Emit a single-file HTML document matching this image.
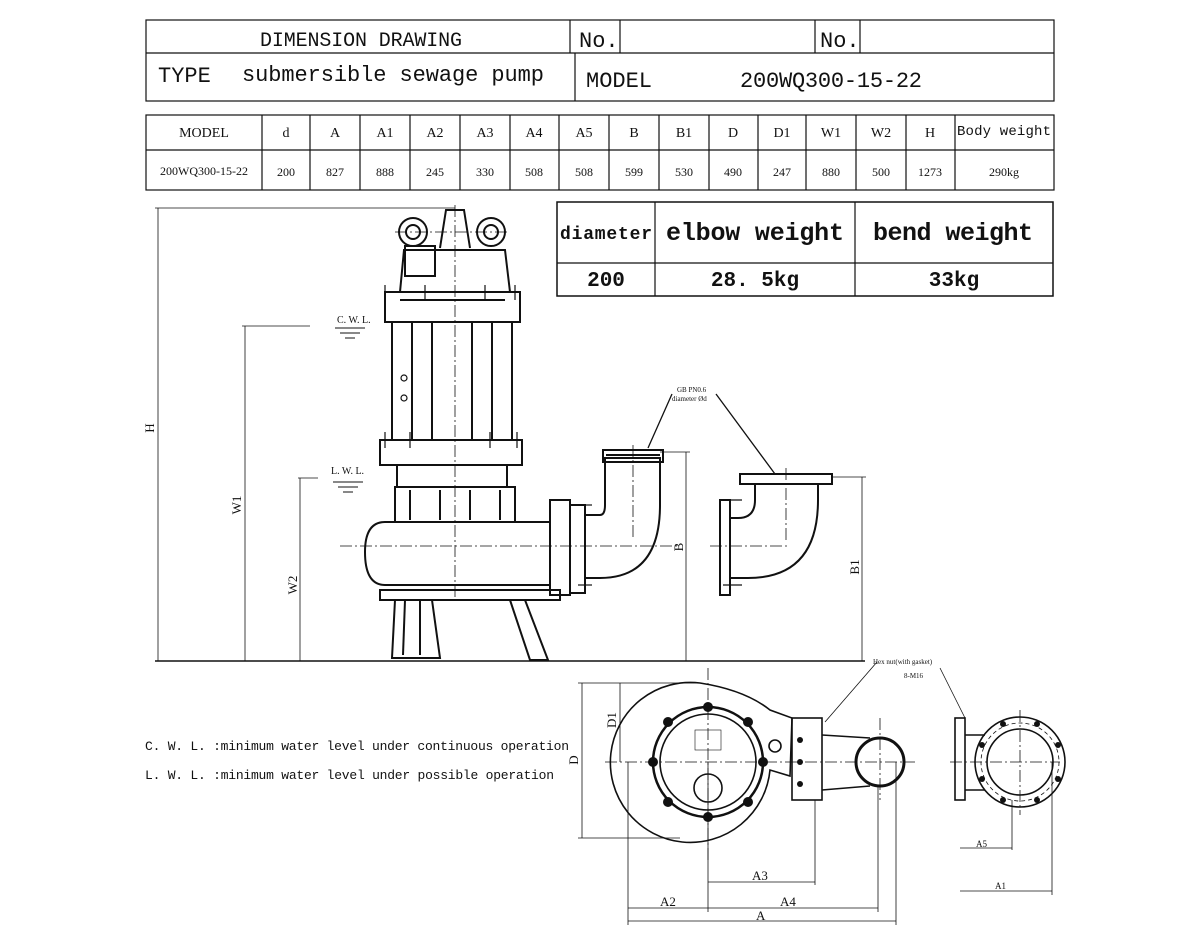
<!DOCTYPE html>
<html><head><meta charset="utf-8"><style>
body{margin:0;background:#fff;width:1200px;height:950px;overflow:hidden}
svg{display:block}
text{font-family:"Liberation Serif","Noto Serif CJK SC",serif;fill:#111}
.m{font-family:"Liberation Mono","Noto Sans CJK SC",monospace}
</style></head><body>
<svg width="1200" height="950" viewBox="0 0 1200 950" xmlns="http://www.w3.org/2000/svg" stroke="#111" fill="none" stroke-width="1.2">
<!-- header table -->
<rect x="146" y="20" width="908" height="81"/>
<line x1="146" y1="53" x2="1054" y2="53"/>
<line x1="570" y1="20" x2="570" y2="53"/><line x1="620" y1="20" x2="620" y2="53"/>
<line x1="815" y1="20" x2="815" y2="53"/><line x1="860" y1="20" x2="860" y2="53"/>
<line x1="575" y1="53" x2="575" y2="101"/>
<g stroke="none" font-size="20" class="m">
<text class="m" x="260" y="46" textLength="202">DIMENSION DRAWING</text>
<text class="m" x="579" y="47" font-size="22">No.</text><text class="m" x="820" y="47" font-size="22">No.</text>
<text class="m" x="158" y="82" font-size="22">TYPE</text>
<text class="m" x="242" y="81" font-size="22" textLength="302">submersible sewage pump</text>
<text class="m" x="586" y="87" font-size="22">MODEL</text>
<text class="m" x="740" y="87" font-size="22" textLength="182">200WQ300-15-22</text>
</g>
<!-- param table -->
<rect x="146" y="115" width="908" height="75"/>
<line x1="146" y1="150" x2="1054" y2="150"/>
<g>
<line x1="262" y1="115" x2="262" y2="190"/><line x1="310" y1="115" x2="310" y2="190"/>
<line x1="360" y1="115" x2="360" y2="190"/><line x1="410" y1="115" x2="410" y2="190"/>
<line x1="460" y1="115" x2="460" y2="190"/><line x1="510" y1="115" x2="510" y2="190"/>
<line x1="559" y1="115" x2="559" y2="190"/><line x1="609" y1="115" x2="609" y2="190"/>
<line x1="659" y1="115" x2="659" y2="190"/><line x1="709" y1="115" x2="709" y2="190"/>
<line x1="758" y1="115" x2="758" y2="190"/><line x1="806" y1="115" x2="806" y2="190"/>
<line x1="856" y1="115" x2="856" y2="190"/><line x1="906" y1="115" x2="906" y2="190"/>
<line x1="955" y1="115" x2="955" y2="190"/>
</g>
<g stroke="none" font-size="14" text-anchor="middle">
<text x="204" y="137">MODEL</text><text x="286" y="137">d</text><text x="335" y="137">A</text>
<text x="385" y="137">A1</text><text x="435" y="137">A2</text><text x="485" y="137">A3</text>
<text x="534" y="137">A4</text><text x="584" y="137">A5</text><text x="634" y="137">B</text>
<text x="684" y="137">B1</text><text x="733" y="137">D</text><text x="782" y="137">D1</text>
<text x="831" y="137">W1</text><text x="881" y="137">W2</text><text x="930" y="137">H</text>
<text class="m" x="1004" y="135" font-size="14" textLength="94">Body weight</text>
<g font-size="12">
<text x="204" y="175">200WQ300-15-22</text><text x="286" y="176">200</text><text x="335" y="176">827</text>
<text x="385" y="176">888</text><text x="435" y="176">245</text><text x="485" y="176">330</text>
<text x="534" y="176">508</text><text x="584" y="176">508</text><text x="634" y="176">599</text>
<text x="684" y="176">530</text><text x="733" y="176">490</text><text x="782" y="176">247</text>
<text x="831" y="176">880</text><text x="881" y="176">500</text><text x="930" y="176">1273</text>
<text x="1004" y="176">290kg</text></g>
</g>
<!-- elbow table -->
<rect x="557" y="202" width="496" height="94" stroke-width="1.5"/>
<line x1="557" y1="263" x2="1053" y2="263"/>
<line x1="655" y1="202" x2="655" y2="296"/><line x1="855" y1="202" x2="855" y2="296"/>
<g stroke="none" text-anchor="middle" font-weight="bold">
<text class="m" x="606" y="239" font-size="18" textLength="92">diameter</text>
<text class="m" x="755" y="240" font-size="25" textLength="178">elbow weight</text>
<text class="m" x="953" y="240" font-size="25" textLength="160">bend weight</text>
<text class="m" x="606" y="286" font-size="21">200</text>
<text class="m" x="755" y="286" font-size="21">28. 5kg</text>
<text class="m" x="954" y="286" font-size="21">33kg</text>
</g>
<!-- dimension lines side view -->
<line x1="155" y1="661" x2="865" y2="661" stroke-width="1.5"/>
<line x1="155" y1="208" x2="455" y2="208" stroke-width="0.8"/>
<line x1="158" y1="208" x2="158" y2="661" stroke-width="0.8"/>
<line x1="242" y1="326" x2="310" y2="326" stroke-width="0.8"/>
<line x1="245" y1="326" x2="245" y2="661" stroke-width="0.8"/>
<line x1="298" y1="478" x2="318" y2="478" stroke-width="0.8"/>
<line x1="300" y1="478" x2="300" y2="661" stroke-width="0.8"/>
<line x1="686" y1="452" x2="686" y2="661" stroke-width="0.8"/>
<line x1="660" y1="452" x2="690" y2="452" stroke-width="0.8"/>
<line x1="862" y1="477" x2="862" y2="661" stroke-width="0.8"/>
<line x1="832" y1="477" x2="866" y2="477" stroke-width="0.8"/>
<g stroke="none" font-size="13">
<text x="154" y="428" transform="rotate(-90 154 428)" text-anchor="middle">H</text>
<text x="241" y="505" transform="rotate(-90 241 505)" text-anchor="middle">W1</text>
<text x="297" y="585" transform="rotate(-90 297 585)" text-anchor="middle">W2</text>
<text x="683" y="547" transform="rotate(-90 683 547)" text-anchor="middle">B</text>
<text x="859" y="567" transform="rotate(-90 859 567)" text-anchor="middle">B1</text>
<text x="337" y="323" font-size="10">C. W. L.</text>
<text x="331" y="474" font-size="10">L. W. L.</text>
<text x="677" y="392" font-size="7">GB PN0.6</text>
<text x="672" y="401" font-size="7">diameter Ød</text>
</g>
<g stroke-width="1">
<line x1="335" y1="328" x2="365" y2="328"/><line x1="340" y1="333" x2="360" y2="333"/><line x1="345" y1="338" x2="355" y2="338"/>
<line x1="333" y1="482" x2="363" y2="482"/><line x1="338" y1="487" x2="358" y2="487"/><line x1="343" y1="492" x2="353" y2="492"/>
</g>
<line x1="672" y1="394" x2="648" y2="448" stroke-width="1.3"/>
<line x1="716" y1="394" x2="775" y2="474" stroke-width="1.3"/>
<!-- pump body -->
<g stroke-width="2">
<circle cx="413" cy="232" r="14"/><circle cx="413" cy="232" r="7"/>
<circle cx="491" cy="232" r="14"/><circle cx="491" cy="232" r="7"/>
<path d="M440 248 L446 210 L464 210 L470 248"/>
<rect x="405" y="246" width="30" height="30"/>
<path d="M400 292 L404 250 L505 250 L510 292"/>
<rect x="385" y="292" width="135" height="30"/>
<line x1="400" y1="300" x2="505" y2="300"/>
<rect x="392" y="322" width="120" height="118"/>
<line x1="412" y1="322" x2="412" y2="440"/><line x1="432" y1="322" x2="432" y2="440"/>
<line x1="472" y1="322" x2="472" y2="440"/><line x1="492" y1="322" x2="492" y2="440"/>
<rect x="380" y="440" width="142" height="25"/>
<rect x="397" y="465" width="110" height="22"/>
<rect x="395" y="487" width="120" height="35"/>
<line x1="410" y1="490" x2="410" y2="520"/><line x1="440" y1="490" x2="440" y2="520"/><line x1="470" y1="490" x2="470" y2="520"/><line x1="500" y1="490" x2="500" y2="520"/>
<path d="M550 522 L385 522 Q365 522 365 552 Q365 585 385 585 L550 585"/>
<rect x="550" y="500" width="20" height="95"/>
<rect x="570" y="505" width="15" height="88"/>
<path d="M585 515 L600 515 Q605 515 605 505 L605 458 L660 458 L660 505 Q660 578 600 578 L585 578"/>
<rect x="603" y="450" width="60" height="12"/>
<line x1="606" y1="455" x2="660" y2="455"/>
<path d="M380 590 L560 590 L560 600 L380 600 Z"/>
<path d="M395 600 L392 658 L440 658 L432 600"/>
<line x1="405" y1="600" x2="403" y2="655"/><line x1="420" y1="600" x2="420" y2="655"/>
<path d="M510 600 L530 660 L548 660 L525 600"/>
<!-- right elbow -->
<rect x="740" y="474" width="92" height="10"/>
<path d="M755 484 L755 500 Q755 518 738 518 L730 518 M818 484 L818 500 Q818 578 748 578 L730 578"/>
<rect x="720" y="500" width="10" height="95"/>
</g>
<g stroke-width="1.2">
<line x1="385" y1="285" x2="385" y2="300"/><line x1="425" y1="285" x2="425" y2="300"/><line x1="485" y1="285" x2="485" y2="300"/><line x1="515" y1="285" x2="515" y2="300"/>
<line x1="385" y1="432" x2="385" y2="448"/><line x1="410" y1="432" x2="410" y2="448"/><line x1="490" y1="432" x2="490" y2="448"/><line x1="517" y1="432" x2="517" y2="448"/>
<line x1="578" y1="505" x2="592" y2="505"/><line x1="578" y1="585" x2="592" y2="585"/>
<line x1="723" y1="500" x2="742" y2="500"/><line x1="723" y1="585" x2="742" y2="585"/>
<circle cx="404" cy="378" r="3"/><circle cx="404" cy="398" r="3"/>
</g>
<g stroke-width="0.8" stroke-dasharray="12 3 2 3">
<line x1="455" y1="205" x2="455" y2="600"/>
<line x1="340" y1="546" x2="680" y2="546"/>
<line x1="710" y1="546" x2="790" y2="546"/>
<line x1="633" y1="445" x2="633" y2="540"/>
<line x1="786" y1="468" x2="786" y2="540"/>
<line x1="395" y1="232" x2="510" y2="232"/>
</g>
<!-- legend -->
<g stroke="none" font-size="13">
<text class="m" x="145" y="750" textLength="424">C. W. L.  :minimum water level under continuous operation</text>
<text class="m" x="145" y="779" textLength="409">L. W. L.  :minimum water level under possible operation</text>
</g>
<!-- bottom view -->
<g stroke-width="1.6">
<path d="M700 683 A80 80 0 1 0 770 770 L790 776 L792 718 L770 710 Q745 690 700 683 Z"/>
<circle cx="708" cy="762" r="55" stroke-width="2.5"/><circle cx="708" cy="762" r="48"/>
<circle cx="708" cy="788" r="14"/>
<circle cx="775" cy="746" r="6"/>
<rect x="792" y="718" width="30" height="82"/>
<path d="M822 735 L870 738 M822 790 L870 786"/>
<circle cx="880" cy="762" r="24" stroke-width="3"/>
<rect x="955" y="718" width="10" height="82"/>
<circle cx="1020" cy="762" r="45"/><circle cx="1020" cy="762" r="33"/>
<path d="M965 735 L985 735 M965 790 L985 790"/>
</g>
<g fill="#111" stroke="none">
<circle cx="708" cy="707" r="5"/><circle cx="708" cy="817" r="5"/><circle cx="668" cy="722" r="5"/><circle cx="748" cy="722" r="5"/>
<circle cx="668" cy="802" r="5"/><circle cx="748" cy="802" r="5"/><circle cx="653" cy="762" r="5"/><circle cx="763" cy="762" r="5"/>
<circle cx="1003" cy="724" r="3"/><circle cx="1037" cy="724" r="3"/><circle cx="1003" cy="800" r="3"/><circle cx="1037" cy="800" r="3"/>
<circle cx="982" cy="745" r="3"/><circle cx="1058" cy="745" r="3"/><circle cx="982" cy="779" r="3"/><circle cx="1058" cy="779" r="3"/>
<circle cx="800" cy="740" r="3"/><circle cx="800" cy="762" r="3"/><circle cx="800" cy="784" r="3"/>
</g>
<rect x="695" y="730" width="26" height="20" stroke-width="0.6"/>
<g stroke-width="0.8" stroke-dasharray="12 3 2 3">
<line x1="605" y1="762" x2="915" y2="762"/><line x1="708" y1="668" x2="708" y2="860"/>
<line x1="950" y1="762" x2="1060" y2="762"/><line x1="1020" y1="710" x2="1020" y2="815"/>
<line x1="880" y1="718" x2="880" y2="800"/>
</g>
<circle cx="1020" cy="762" r="39" stroke-width="0.8" stroke-dasharray="4 3"/>
<g stroke-width="0.8">
<line x1="582" y1="683" x2="582" y2="838"/><line x1="578" y1="683" x2="700" y2="683"/><line x1="578" y1="838" x2="680" y2="838"/>
<line x1="620" y1="683" x2="620" y2="762"/>
<line x1="628" y1="762" x2="628" y2="925"/><line x1="708" y1="762" x2="708" y2="912"/>
<line x1="815" y1="800" x2="815" y2="885"/><line x1="878" y1="785" x2="878" y2="912"/><line x1="896" y1="762" x2="896" y2="925"/>
<line x1="708" y1="882" x2="815" y2="882"/>
<line x1="628" y1="908" x2="878" y2="908"/>
<line x1="628" y1="921" x2="896" y2="921"/>
<line x1="1052" y1="762" x2="1052" y2="895"/><line x1="1012" y1="800" x2="1012" y2="850"/>
<line x1="960" y1="848" x2="1012" y2="848"/><line x1="960" y1="891" x2="1052" y2="891"/>
<line x1="877" y1="662" x2="825" y2="722"/><line x1="940" y1="668" x2="965" y2="718"/>
</g>
<g stroke="none" font-size="13">
<text x="578" y="760" transform="rotate(-90 578 760)" text-anchor="middle">D</text>
<text x="616" y="720" transform="rotate(-90 616 720)" text-anchor="middle">D1</text>
<text x="752" y="880">A3</text><text x="660" y="906">A2</text><text x="780" y="906">A4</text>
<text x="756" y="920">A</text><text x="976" y="847" font-size="9">A5</text><text x="995" y="889" font-size="9">A1</text>
<text x="873" y="664" font-size="7">Hex nut(with gasket)</text><text x="904" y="678" font-size="7">8-M16</text>
</g>
</svg>
</body></html>
